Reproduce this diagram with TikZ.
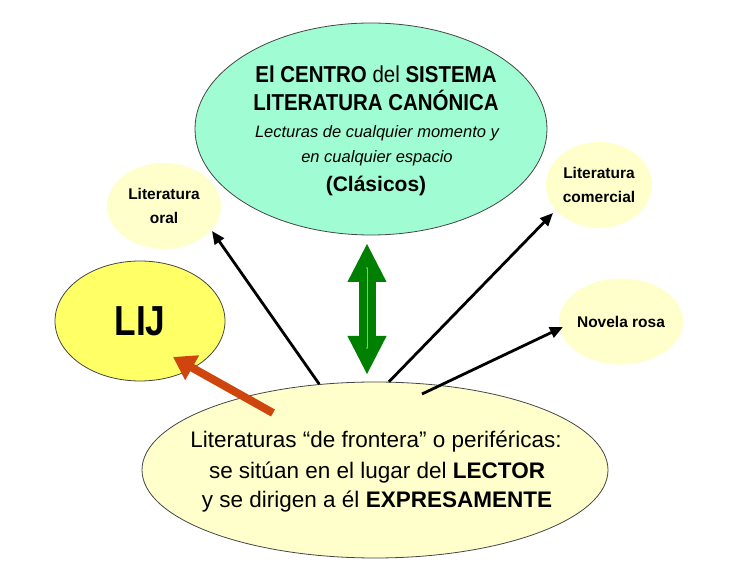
\documentclass[tikz,border=0pt]{standalone}
\usepackage{fontspec}
\setmainfont{Liberation Sans}
\usepackage{graphicx}
\usetikzlibrary{shapes.geometric,arrows.meta}
\definecolor{mint}{RGB}{160,252,210}
\definecolor{paleyel}{RGB}{255,255,204}
\definecolor{lijyel}{RGB}{255,255,102}
\definecolor{edgegray}{RGB}{70,70,70}
\definecolor{redarr}{RGB}{206,70,14}
\definecolor{grnarr}{RGB}{0,128,0}
\begin{document}
\begin{tikzpicture}[x=1pt,y=-1pt,
  ell/.style={ellipse,inner sep=0pt,align=center},
  bigell/.style={ell,draw=edgegray,line width=0.8pt},
  smallell/.style={ell,fill=paleyel,font=\bfseries\fontsize{15.5}{24}\selectfont},
  txt/.style={anchor=base,inner sep=0pt},
  blk/.style={line width=2.8pt,-{Triangle[length=13pt,width=11pt]}},
  redstyle/.style={draw=redarr,line width=8pt,-{Triangle[length=22pt,width=27pt]}},
  grnstyle/.style={draw=grnarr,line width=17pt,{Triangle[length=39pt,width=36pt]}-{Triangle[length=39pt,width=36pt]}}
]
\useasboundingbox (0,0) rectangle (748,577);

% ellipses
\node[bigell,fill=mint,minimum width=352pt,minimum height=212pt] (top) at (371,129) {};
\node[smallell,minimum width=114pt,minimum height=86pt] (oral) at (164,206) {Literatura\\oral};
\node[smallell,minimum width=106pt,minimum height=86pt] (com) at (599,185) {Literatura\\comercial};
\node[smallell,minimum width=114pt,minimum height=86pt] (rosa) at (621,321.5) {Novela rosa};
\node[bigell,fill=lijyel,minimum width=170pt,minimum height=120pt,
      font=\bfseries\fontsize{42}{42}\selectfont] (lij) at (140,321) {\scalebox{0.84}[1]{LIJ}};
\node[bigell,fill=paleyel,minimum width=466pt,minimum height=176pt] (bot) at (375,470) {};

% text of the central ellipse
\node[txt] (t1) at (376,83) {\fontsize{23}{23}\selectfont\scalebox{0.89}[1]{\textbf{El CENTRO} del \textbf{SISTEMA}}};
\node[txt] (t2) at (376,111) {\fontsize{23}{23}\selectfont\scalebox{0.89}[1]{\textbf{LITERATURA CANÓNICA}}};
\node[txt] (t3) at (377,138) {\fontsize{16.5}{16.5}\selectfont\itshape Lecturas de cualquier momento y};
\node[txt] (t4) at (377,163) {\fontsize{16.5}{16.5}\selectfont\itshape en cualquier espacio};
\node[txt] (t5) at (376,192) {\fontsize{21}{21}\selectfont\bfseries (Clásicos)};

% text of the bottom ellipse
\node[txt] (b1) at (376,448) {\fontsize{22.5}{22.5}\selectfont Literaturas “de frontera” o periféricas:};
\node[txt] (b2) at (377,479) {\fontsize{22.5}{22.5}\selectfont se sitúan en el lugar del \textbf{LECTOR}};
\node[txt] (b3) at (377,508) {\fontsize{22.5}{22.5}\selectfont y se dirigen a él \textbf{EXPRESAMENTE}};

% connector end points
\coordinate (oraltip) at (212,231);
\coordinate (comtip) at (553,213);
\coordinate (rosastart) at (422,394);
\coordinate (rosatip) at (563,327);
\coordinate (redstart) at (273,413);
\coordinate (lijtip) at (173,357);
\coordinate (gtop) at (367,243);
\coordinate (gbot) at (367,375);

% black arrows
\draw[blk] (bot.123.7) -- (oraltip);
\draw[blk] (bot.81.5) -- (comtip);
\draw[blk] (rosastart) -- (rosatip);

% red arrow
\draw[redstyle] (redstart) -- (lijtip);

% green double arrow
\draw[grnstyle] (gtop) -- (gbot);
\draw[green!75!black!60!white,line width=0.35pt] (367,268) -- (367,348);
\fill[green!75!black!60!white] (367,268) circle (0.8pt) (367,348) circle (0.8pt);
\end{tikzpicture}
\end{document}
